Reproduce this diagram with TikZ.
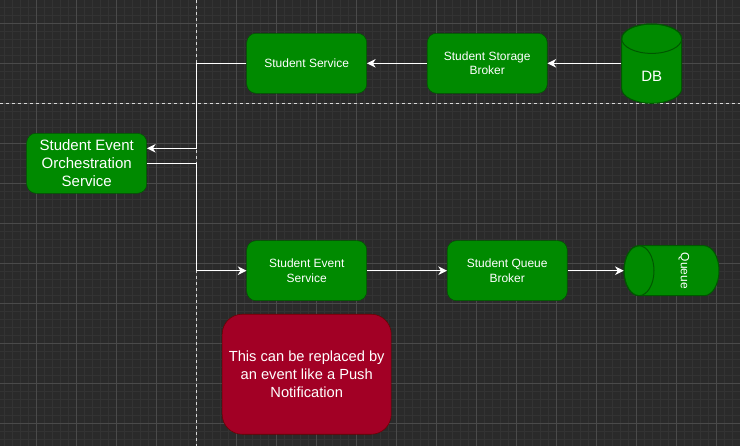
\documentclass[tikz,border=0pt]{standalone}
\usepackage{fontspec}
\setmainfont{Liberation Sans}
\usetikzlibrary{positioning,arrows.meta}
\definecolor{canvas}{HTML}{2A2A2A}
\definecolor{gridminor}{HTML}{333333}
\definecolor{gridmajor}{HTML}{4A4A4A}
\definecolor{svcfill}{HTML}{008A00}
\definecolor{svcline}{HTML}{005700}
\definecolor{notefill}{HTML}{A20025}
\definecolor{noteline}{HTML}{6F0000}
\definecolor{lane}{HTML}{D8D8D8}

\begin{document}
\begin{tikzpicture}[x=0.75pt, y=-0.75pt,
    svc/.style = {draw=svcline, fill=svcfill, rounded corners=7pt, minimum width=90pt, minimum height=45pt, inner sep=0pt, align=center, text=white, font=\fontsize{9}{11}\selectfont},
    big/.style = {font=\fontsize{11.25}{13.5}\selectfont},
    store/.style = {inner sep=0pt, text=white},
    storeline/.style = {draw=svcline, fill=svcfill, line width=0.75pt},
    note/.style = {draw=noteline, fill=notefill, rounded corners=15pt, minimum width=126.75pt, minimum height=90pt, inner sep=0pt, align=center, text=white, font=\fontsize{11}{13.5}\selectfont},
    arr/.style = {draw=white, line width=0.9pt, -{Stealth[length=6.5pt, width=6.5pt, inset=2pt]}},
    lanes/.style = {draw=lane, line width=0.75pt, dash pattern=on 2.25pt off 2.25pt}]
    % canvas and grid
    \useasboundingbox (0,0) rectangle (740,446);
    \fill[canvas] (0,0) rectangle (740,446);
    \foreach \x in {4.67,12.67,...,740} \draw[gridminor, line width=0.6pt] (\x,0) -- (\x,446);
    \foreach \y in {7.33,15.33,...,446} \draw[gridminor, line width=0.6pt] (0,\y) -- (740,\y);
    \foreach \x in {36.67,76.67,...,740} \draw[gridmajor, line width=0.75pt] (\x,0) -- (\x,446);
    \foreach \y in {23.33,63.33,...,446} \draw[gridmajor, line width=0.75pt] (0,\y) -- (740,\y);
    \draw[lanes] (196.7,0) -- (196.7,446);
    \draw[lanes] (0,103.3) -- (740,103.3);

    % cylinders
    \path[storeline] (621.7,38.7) -- (621.7,88.6) arc[start angle=180, end angle=0, x radius=30, y radius=14.7]
        -- (681.7,38.7) arc[start angle=0, end angle=-180, x radius=30, y radius=14.7] -- cycle;
    \draw[svcline, line width=0.75pt] (651.7,38.7) ellipse[x radius=30, y radius=14.7];
    \path[storeline] (639,245.7) -- (704,245.7) arc[start angle=-90, end angle=90, x radius=15, y radius=25]
        -- (639,295.7) arc[start angle=90, end angle=270, x radius=15, y radius=25] -- cycle;
    \draw[svcline, line width=0.75pt] (639,270.7) ellipse[x radius=15, y radius=25];

    % nodes
    \node[svc] (ss) at (306.7,63.3) {Student Service};
    \node[svc, right=45pt of ss] (ssb) {Student Storage\\Broker};
    \node[store, big, minimum width=45pt, minimum height=59.25pt, text height=27pt, text depth=0pt] (db) at (651.7,63.7) {DB};
    \node[svc, big] (seo) at (86.7,163.3) {Student Event\\Orchestration\\Service};
    \node[svc] (ses) at (306.7,270.7) {Student Event\\Service};
    \node[svc, right=60pt of ses] (sqb) {Student Queue\\Broker};
    \node[store, minimum width=71.25pt, minimum height=37.5pt, font=\fontsize{9}{11}\selectfont] (queue) at (671.5,270.7) {\hspace*{18.75pt}\rotatebox{-90}{Queue}};
    \node[note, below=9.75pt of ses] (push) {This can be replaced by\\an event like a Push\\Notification};

    % connectors
    \coordinate (b1) at (196.7,63.3);
    \coordinate (b2) at (196.7,163.3);
    \draw[arr] (db.west |- ssb.east) -- (ssb);
    \draw[arr] (ssb) -- (ss);
    \draw[arr] (ss.west) -- (b1) |- ([yshift=11.25pt]seo.east);
    \draw[arr] (seo.east) -- (b2) |- (ses.west);
    \draw[arr] (ses) -- (sqb);
    \draw[arr] (sqb) -- (queue);
\end{tikzpicture}
\end{document}
